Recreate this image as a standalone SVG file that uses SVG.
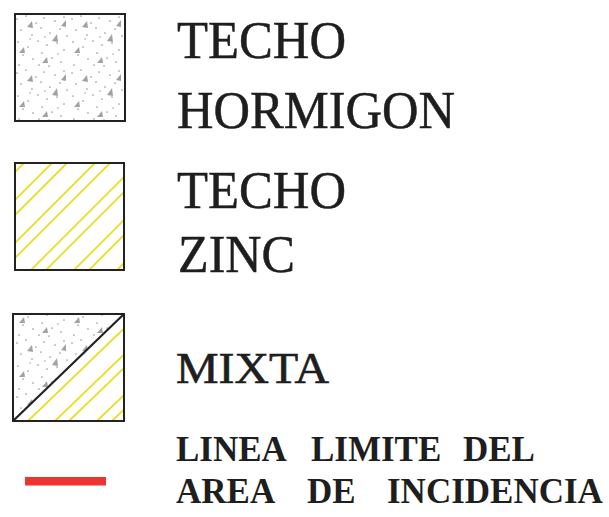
<svg xmlns="http://www.w3.org/2000/svg" width="609" height="517" viewBox="0 0 609 517">
<style>
.box{fill:none;stroke:#222;stroke-width:2}
.big{font-family:"Liberation Serif","Times New Roman",serif;font-size:53px;fill:#1e1e1e;stroke:#1e1e1e;stroke-width:0.5}
.mid{font-family:"Liberation Serif","Times New Roman",serif;font-size:45px;fill:#1e1e1e;stroke:#1e1e1e;stroke-width:0.6}
.small{font-family:"Liberation Serif","Times New Roman",serif;font-size:35px;font-weight:bold;fill:#1e1e1e}
.hatch{stroke:#e8df22;stroke-width:1.8;fill:none}
.dot{fill:#999}
.tri{fill:#a2a2a2}
</style>
<defs>
<pattern id="stipple" patternUnits="userSpaceOnUse" x="14" y="14" width="55" height="54">
<g class="dot">
<circle cx="3" cy="5" r="0.85"/><circle cx="12" cy="2" r="0.85"/><circle cx="22" cy="9" r="0.85"/><circle cx="30" cy="4" r="0.85"/><circle cx="41" cy="7" r="0.85"/><circle cx="50" cy="3" r="0.85"/>
<circle cx="7" cy="16" r="0.85"/><circle cx="18" cy="21" r="0.85"/><circle cx="27" cy="14" r="0.85"/><circle cx="36" cy="19" r="0.85"/><circle cx="46" cy="15" r="0.85"/><circle cx="53" cy="22" r="0.85"/>
<circle cx="4" cy="28" r="0.85"/><circle cx="14" cy="33" r="0.85"/><circle cx="24" cy="27" r="0.85"/><circle cx="33" cy="31" r="0.85"/><circle cx="43" cy="29" r="0.85"/><circle cx="50" cy="36" r="0.85"/>
<circle cx="9" cy="41" r="0.85"/><circle cx="19" cy="45" r="0.85"/><circle cx="28" cy="39" r="0.85"/><circle cx="38" cy="44" r="0.85"/><circle cx="47" cy="48" r="0.85"/><circle cx="5" cy="51" r="0.85"/><circle cx="25" cy="51" r="0.85"/><circle cx="35" cy="52" r="0.85"/>
<circle cx="31" cy="23" r="0.75"/><circle cx="44" cy="40" r="0.75"/><circle cx="16" cy="25" r="0.75"/>
</g>
<g class="tri">
<polygon points="13,13 18,7 19,14"/><polygon points="38,27 43,20 44,28"/><polygon points="5,39 10,33 11,39"/><polygon points="28,49 33,43 34,49"/><polygon points="47,12 52,6 52,13"/>
</g>
</pattern>
<clipPath id="c2"><rect x="15" y="163" width="109" height="107"/></clipPath>
<clipPath id="c3"><polygon points="13,421 124,314 124,421"/></clipPath>
</defs>

<g id="techo-hormigon">
<rect x="15" y="14" width="110" height="107" fill="url(#stipple)"/>
<rect class="box" x="15" y="14" width="110" height="107"/>
<text class="big" x="177" y="58" textLength="169" lengthAdjust="spacingAndGlyphs">TECHO</text>
<text class="big" x="177" y="128" textLength="278" lengthAdjust="spacingAndGlyphs">HORMIGON</text>
</g>

<g id="techo-zinc">
<g clip-path="url(#c2)" class="hatch">
<path d="M0,187 L187,0 M0,215 L215,0 M0,230 L230,0 M0,258 L258,0 M0,273 L273,0 M0,301 L301,0 M0,316 L316,0 M0,344 L344,0 M0,359 L359,0 M0,387 L387,0"/>
</g>
<rect class="box" x="15" y="163" width="109" height="107"/>
<text class="big" x="177" y="208" textLength="169" lengthAdjust="spacingAndGlyphs">TECHO</text>
<text class="big" x="178" y="272" textLength="117" lengthAdjust="spacingAndGlyphs">ZINC</text>
</g>

<g id="mixta">
<polygon points="13,314 124,314 13,421" fill="url(#stipple)"/>
<g clip-path="url(#c3)" class="hatch">
<path d="M28,421 L139,314 M55,421 L166,314 M69,421 L180,314 M97,421 L208,314 M112,421 L223,314"/>
</g>
<rect class="box" x="13" y="314" width="111" height="107"/>
<line x1="13" y1="421" x2="124" y2="314" stroke="#222" stroke-width="2.2"/>
<text class="mid" x="176" y="383" textLength="153" lengthAdjust="spacingAndGlyphs">MIXTA</text>
</g>

<g id="linea-limite">
<rect x="25" y="477" width="81" height="8.5" fill="#ee3431"/>
<text class="small" y="461"><tspan x="176">LINEA</tspan><tspan x="311">LIMITE</tspan><tspan x="463">DEL</tspan></text>
<text class="small" y="503"><tspan x="176">AREA</tspan><tspan x="307">DE</tspan><tspan x="387">INCIDENCIA</tspan></text>
</g>
</svg>
